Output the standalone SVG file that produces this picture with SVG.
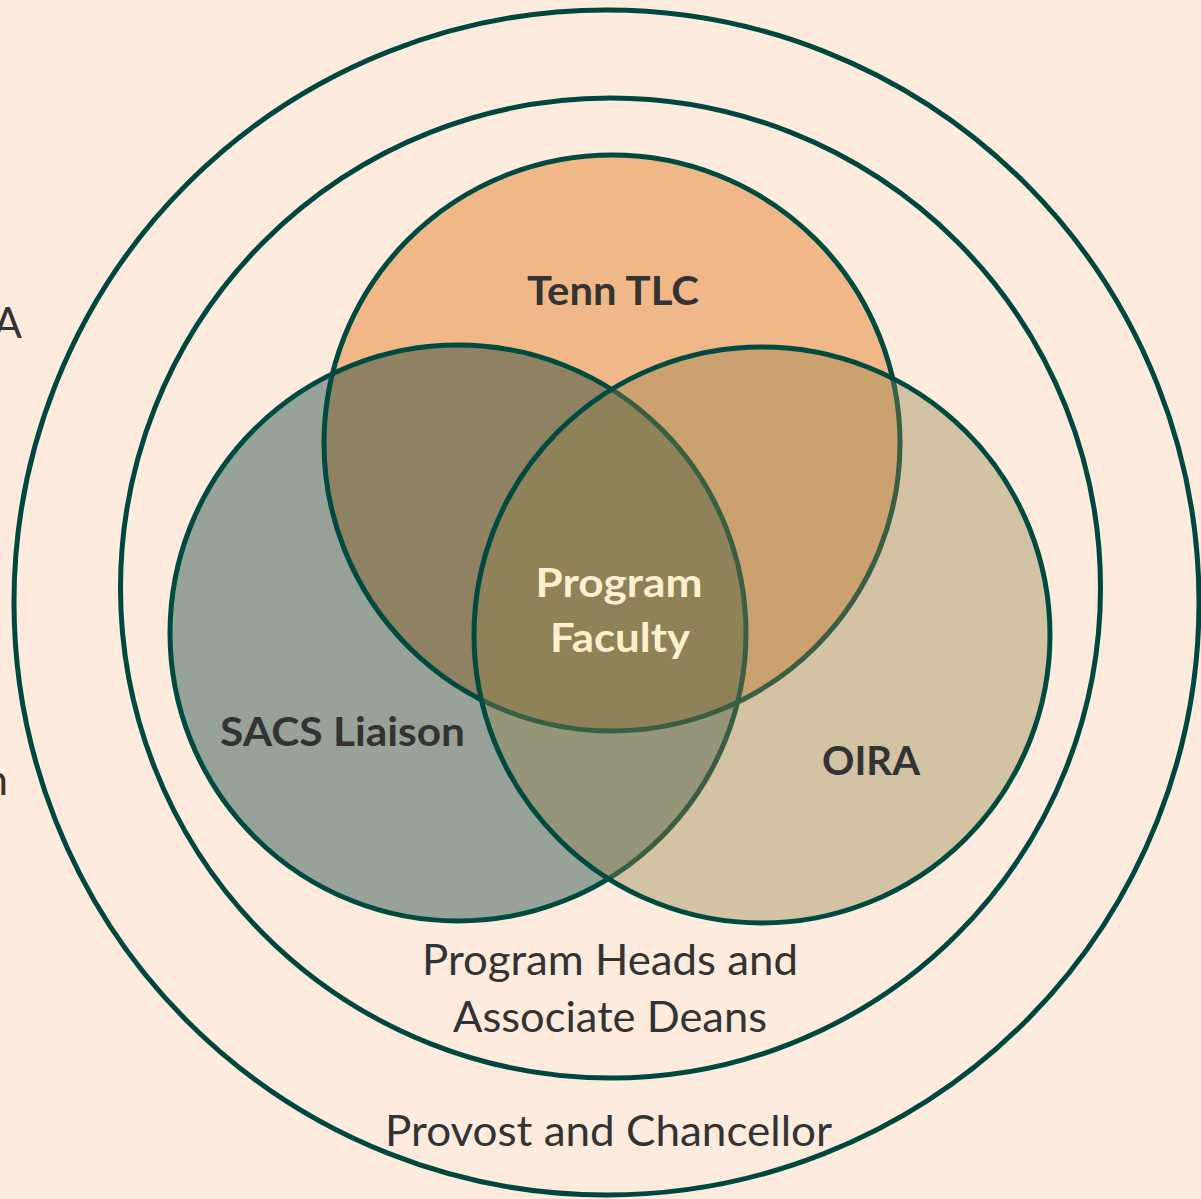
<svg xmlns="http://www.w3.org/2000/svg" width="1201" height="1199" viewBox="0 0 1201 1199">
  <style>
    .ring { fill: none; stroke: #00473F; stroke-width: 5; }
    .edge { fill: none; stroke: #004A40; stroke-width: 5; }
    .lbl { font-family: Lato, "Liberation Sans", sans-serif; fill: #333333; text-anchor: middle; }
    .bold { font-weight: bold; }
    .core { font-family: Lato, "Liberation Sans", sans-serif; font-weight: bold; fill: #FDF0D0; text-anchor: middle; }
  </style>
  <defs>
    <clipPath id="clip-tlc"><circle cx="612" cy="443" r="288"/></clipPath>
  </defs>

  <rect width="1201" height="1199" fill="#FDEBDD"/>

  <!-- text running in from the left edge -->
  <text class="lbl" x="22" y="338" font-size="42" style="text-anchor:end">A</text>
  <text class="lbl" x="8" y="795" font-size="42" style="text-anchor:end">n</text>

  <!-- outer rings -->
  <g id="ring-provost">
    <circle class="ring" cx="606.5" cy="602.5" r="592.5"/>
    <text class="lbl" x="608.5" y="1146" font-size="42" textLength="447" lengthAdjust="spacingAndGlyphs">Provost and Chancellor</text>
  </g>
  <g id="ring-heads">
    <circle class="ring" cx="610.5" cy="588" r="490"/>
    <text class="lbl" x="610" y="975" font-size="42" textLength="376" lengthAdjust="spacingAndGlyphs">Program Heads and</text>
    <text class="lbl" x="610" y="1032" font-size="42" textLength="314" lengthAdjust="spacingAndGlyphs">Associate Deans</text>
  </g>

  <!-- venn circles -->
  <g id="tenn-tlc">
    <circle cx="612" cy="443" r="288" fill="#F0B888"/>
  </g>
  <g id="sacs-liaison">
    <circle cx="458" cy="633" r="288" fill="#97A399"/>
    <circle cx="458" cy="633" r="288" fill="#8F8262" clip-path="url(#clip-tlc)"/>
  </g>
  <g id="edges">
    <circle class="edge" cx="612" cy="443" r="288"/>
    <circle class="edge" cx="458" cy="633" r="288"/>
  </g>
  <g id="oira">
    <circle cx="762" cy="635" r="288" fill="#918248" fill-opacity="0.39"/>
    <circle class="edge" cx="762" cy="635" r="288"/>
  </g>

  <!-- labels -->
  <text class="lbl bold" x="613" y="305" font-size="41" textLength="172" lengthAdjust="spacingAndGlyphs">Tenn TLC</text>
  <text class="lbl bold" x="342.5" y="746" font-size="41" textLength="245" lengthAdjust="spacingAndGlyphs">SACS Liaison</text>
  <text class="lbl bold" x="871" y="775" font-size="41" textLength="98" lengthAdjust="spacingAndGlyphs">OIRA</text>
  <g id="program-faculty">
    <text class="core" x="619" y="597" font-size="41" textLength="167" lengthAdjust="spacingAndGlyphs">Program</text>
    <text class="core" x="620" y="652" font-size="41" textLength="140" lengthAdjust="spacingAndGlyphs">Faculty</text>
  </g>
</svg>
